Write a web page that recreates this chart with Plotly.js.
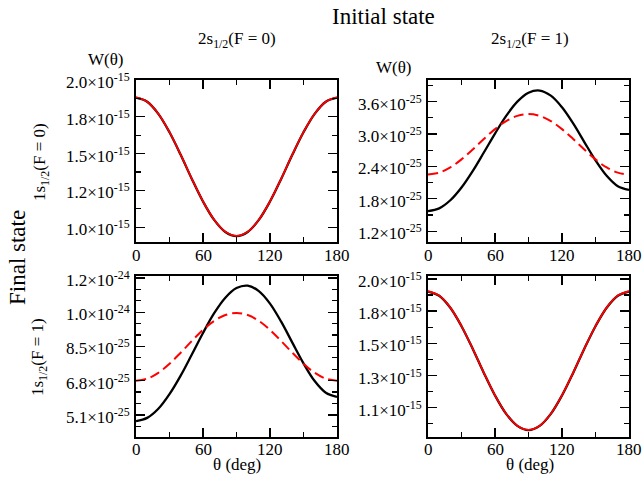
<!DOCTYPE html>
<html>
<head>
<meta charset="utf-8">
<script src="https://cdn.plot.ly/plotly-3.0.1.min.js"></script>
<style>html,body{margin:0;padding:0;background:#fff;}#chart{width:642px;height:477px;}</style>
</head>
<body>
<div id="chart"></div>
<script>
// angle samples (deg)
const theta = [0,10,20,30,40,50,60,70,80,90,100,110,120,130,140,150,160,170,180];

// Panel: initial 2s1/2(F=0) -> final 1s1/2(F=0)
const p00_black = [1.880e-15,1.852e-15,1.770e-15,1.645e-15,1.492e-15,1.328e-15,1.175e-15,1.050e-15,0.968e-15,0.940e-15,0.968e-15,1.050e-15,1.175e-15,1.328e-15,1.492e-15,1.645e-15,1.770e-15,1.852e-15,1.880e-15];
const p00_red   = [1.882e-15,1.853e-15,1.771e-15,1.646e-15,1.493e-15,1.329e-15,1.176e-15,1.051e-15,0.969e-15,0.941e-15,0.969e-15,1.051e-15,1.176e-15,1.329e-15,1.493e-15,1.646e-15,1.771e-15,1.853e-15,1.882e-15];

// Panel: initial 2s1/2(F=1) -> final 1s1/2(F=0)
const p10_black = [1.571e-25,1.623e-25,1.773e-25,2.009e-25,2.313e-25,2.657e-25,3.008e-25,3.335e-25,3.600e-25,3.765e-25,3.805e-25,3.710e-25,3.495e-25,3.195e-25,2.851e-25,2.512e-25,2.225e-25,2.032e-25,1.965e-25];
const p10_red   = [2.250e-25,2.284e-25,2.381e-25,2.530e-25,2.713e-25,2.907e-25,3.090e-25,3.239e-25,3.336e-25,3.370e-25,3.336e-25,3.239e-25,3.090e-25,2.907e-25,2.713e-25,2.530e-25,2.381e-25,2.284e-25,2.250e-25];

// Panel: initial 2s1/2(F=0) -> final 1s1/2(F=1)
const p01_black = [4.79e-25,4.95e-25,5.40e-25,6.13e-25,7.05e-25,8.10e-25,9.17e-25,10.15e-25,10.92e-25,11.40e-25,11.52e-25,11.25e-25,10.63e-25,9.73e-25,8.69e-25,7.66e-25,6.78e-25,6.20e-25,5.99e-25];
const p01_red   = [6.80e-25,6.90e-25,7.19e-25,7.64e-25,8.19e-25,8.77e-25,9.32e-25,9.77e-25,10.06e-25,10.16e-25,10.06e-25,9.77e-25,9.32e-25,8.77e-25,8.19e-25,7.64e-25,7.19e-25,6.90e-25,6.80e-25];

// Panel: initial 2s1/2(F=1) -> final 1s1/2(F=1)
const p11_black = [1.894e-15,1.865e-15,1.783e-15,1.657e-15,1.503e-15,1.338e-15,1.184e-15,1.058e-15,0.976e-15,0.947e-15,0.976e-15,1.058e-15,1.184e-15,1.338e-15,1.503e-15,1.657e-15,1.783e-15,1.865e-15,1.894e-15];
const p11_red   = [1.896e-15,1.866e-15,1.784e-15,1.658e-15,1.504e-15,1.339e-15,1.185e-15,1.059e-15,0.977e-15,0.948e-15,0.977e-15,1.059e-15,1.185e-15,1.339e-15,1.504e-15,1.658e-15,1.784e-15,1.866e-15,1.896e-15];

// x ticks
const xTickVals = [0,60,120,180];
const xTickText = ["0","60","120","180"];
const xMinorVals = [30,90,150];

// y ticks per panel
const y1Vals = [1.0e-15,1.25e-15,1.5e-15,1.75e-15,2.0e-15];
const y1Text = ["1.0×10<sup>-15</sup>","1.2×10<sup>-15</sup>","1.5×10<sup>-15</sup>","1.8×10<sup>-15</sup>","2.0×10<sup>-15</sup>"];
const y1Minor = [1.125e-15,1.375e-15,1.625e-15,1.875e-15];

const y2Vals = [1.2e-25,1.8e-25,2.4e-25,3.0e-25,3.6e-25];
const y2Text = ["1.2×10<sup>-25</sup>","1.8×10<sup>-25</sup>","2.4×10<sup>-25</sup>","3.0×10<sup>-25</sup>","3.6×10<sup>-25</sup>"];
const y2Minor = [1.5e-25,2.1e-25,2.7e-25,3.3e-25,3.9e-25];

const y3Vals = [5.1e-25,6.8e-25,8.5e-25,10.2e-25,11.9e-25];
const y3Text = ["5.1×10<sup>-25</sup>","6.8×10<sup>-25</sup>","8.5×10<sup>-25</sup>","1.0×10<sup>-24</sup>","1.2×10<sup>-24</sup>"];
const y3Minor = [4.533e-25,5.667e-25,6.233e-25,7.367e-25,7.933e-25,9.067e-25,9.633e-25,10.767e-25,11.333e-25];

const y4Vals = [1.10e-15,1.32e-15,1.54e-15,1.76e-15,1.98e-15];
const y4Text = ["1.1×10<sup>-15</sup>","1.3×10<sup>-15</sup>","1.5×10<sup>-15</sup>","1.8×10<sup>-15</sup>","2.0×10<sup>-15</sup>"];
const y4Minor = [0.99e-15,1.21e-15,1.43e-15,1.65e-15,1.87e-15];

const FONT = "Liberation Serif";

function blk(y, xa, ya){ return {x: theta, y: y, xaxis: xa, yaxis: ya, mode:'lines', line:{color:'#000000', width:2.3, shape:'spline'}, hoverinfo:'skip', showlegend:false}; }
function red(y, xa, ya, dash, w){ return {x: theta, y: y, xaxis: xa, yaxis: ya, mode:'lines', line:{color:'#ff0000', width:w, shape:'spline', dash: dash}, hoverinfo:'skip', showlegend:false}; }
function dummy(xa, ya){ return {x:[null], y:[null], xaxis: xa, yaxis: ya, mode:'lines', hoverinfo:'skip', showlegend:false}; }

const data = [
  blk(p00_black,'x','y'), red(p00_red,'x','y','solid',1.8),
  blk(p10_black,'x2','y2'), red(p10_red,'x2','y2','10px,5px',2),
  blk(p01_black,'x3','y3'), red(p01_red,'x3','y3','10px,5px',2),
  blk(p11_black,'x4','y4'), red(p11_red,'x4','y4','solid',1.8),
  dummy('x5','y5'), dummy('x6','y6'), dummy('x7','y7'), dummy('x8','y8')
];

const W = 642, H = 477;
function xd(a,b){ return [a/W, b/W]; }
function yd(top,bot){ return [1-bot/H, 1-top/H]; }

function xax(dom, anchor){
  return {domain: dom, anchor: anchor, range:[0,180], tickmode:'array', tickvals: xTickVals, showticklabels:false,
    ticks:'inside', ticklen:9, tickwidth:1.3, tickcolor:'#000', showline:true, linecolor:'#000', linewidth:1.6, mirror:'ticks',
    showgrid:false, zeroline:false};
}
function yax(dom, anchor, range, vals){
  return {domain: dom, anchor: anchor, range: range, tickmode:'array', tickvals: vals, showticklabels:false,
    ticks:'inside', ticklen:9, tickwidth:1.3, tickcolor:'#000', showline:true, linecolor:'#000', linewidth:1.6, mirror:'ticks',
    showgrid:false, zeroline:false};
}
// minor-tick overlay axes
function xmin(dom, anchor, over){
  return {domain: dom, anchor: anchor, overlaying: over, range:[0,180], tickmode:'array', tickvals: xMinorVals,
    ticks:'inside', ticklen:5, tickwidth:1.2, tickcolor:'#000', showline:false, mirror:'ticks', showticklabels:false,
    showgrid:false, zeroline:false};
}
function ymin(dom, anchor, over, range, vals){
  return {domain: dom, anchor: anchor, overlaying: over, range: range, tickmode:'array', tickvals: vals,
    ticks:'inside', ticklen:5, tickwidth:1.2, tickcolor:'#000', showline:false, mirror:'ticks', showticklabels:false,
    showgrid:false, zeroline:false};
}

const colL = xd(136,337), colR = xd(428,629);
const rowT = yd(80,242), rowB = yd(276,437);
const r1 = [0.9e-15,2.0e-15], r2 = [1.0e-25,4.0e-25], r3 = [4.0e-25,12.0e-25], r4 = [0.9e-15,2.0e-15];

function ann(text, x, y, size, angle){
  return {text: text, x: x/W, y: 1-y/H, xref:'paper', yref:'paper', showarrow:false, xanchor:'center', yanchor:'middle',
    textangle: angle||0, font:{family:FONT, size:size, color:'#000'}};
}
// tick labels drawn as annotations positioned through the axes' scales
function yLabels(vals, text, yref, xpix){
  return vals.map((v,i) => ({text: text[i], x: xpix/W, y: v, xref:'paper', yref: yref, showarrow:false,
    xanchor:'right', yanchor:'middle', yshift:-1, font:{family:FONT, size:17, color:'#000'}}));
}
function xLabels(xref, ypix){
  return xTickVals.map((v,i) => ({text: xTickText[i], x: v, y: 1-ypix/H, xref: xref, yref:'paper', showarrow:false,
    xanchor:'center', yanchor:'middle', font:{family:FONT, size:17, color:'#000'}}));
}

const annotations = [
  ann('Initial state', 383, 17, 23),
  ann('2s<sub>1/2</sub>(F = 0)', 237, 40, 17),
  ann('2s<sub>1/2</sub>(F = 1)', 530, 40, 17),
  ann('W(θ)', 106, 60, 17),
  ann('W(θ)', 394, 67, 17),
  ann('Final state', 17, 258, 23, -90),
  ann('1s<sub>1/2</sub>(F = 0)', 41, 162, 17, -90),
  ann('1s<sub>1/2</sub>(F = 1)', 39, 357, 17, -90),
  ann('θ (deg)', 237, 464, 17),
  ann('θ (deg)', 530, 464, 17)
].concat(
  yLabels(y1Vals, y1Text, 'y', 132),
  yLabels(y2Vals, y2Text, 'y2', 424),
  yLabels(y3Vals, y3Text, 'y3', 132),
  yLabels(y4Vals, y4Text, 'y4', 424),
  xLabels('x', 255), xLabels('x2', 255), xLabels('x3', 449), xLabels('x4', 449)
);

const layout = {
  width: W, height: H, margin:{l:0,r:0,t:0,b:0}, paper_bgcolor:'#fff', plot_bgcolor:'rgba(0,0,0,0)',
  font: {family: FONT, size: 17, color: '#000'},
  showlegend:false,
  xaxis: xax(colL,'y'), yaxis: yax(rowT,'x',r1, y1Vals),
  xaxis2: xax(colR,'y2'), yaxis2: yax(rowT,'x2',r2, y2Vals),
  xaxis3: xax(colL,'y3'), yaxis3: yax(rowB,'x3',r3, y3Vals),
  xaxis4: xax(colR,'y4'), yaxis4: yax(rowB,'x4',r4, y4Vals),
  xaxis5: xmin(colL,'y5','x'), yaxis5: ymin(rowT,'x5','y',r1,y1Minor),
  xaxis6: xmin(colR,'y6','x2'), yaxis6: ymin(rowT,'x6','y2',r2,y2Minor),
  xaxis7: xmin(colL,'y7','x3'), yaxis7: ymin(rowB,'x7','y3',r3,y3Minor),
  xaxis8: xmin(colR,'y8','x4'), yaxis8: ymin(rowB,'x8','y4',r4,y4Minor),
  annotations: annotations
};

Plotly.newPlot('chart', data, layout, {staticPlot:true, displayModeBar:false});
</script>
</body>
</html>
